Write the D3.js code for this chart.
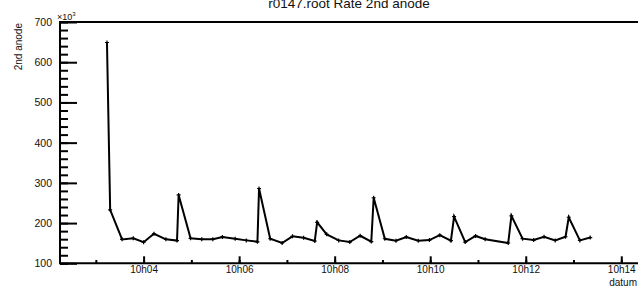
<!DOCTYPE html>
<html>
<head>
<meta charset="utf-8">
<script src="https://cdn.jsdelivr.net/npm/d3@7"></script>
<style>
  body { margin: 0; background: #fff; }
  svg { display: block; font-family: "Liberation Sans", Arial, sans-serif; }
</style>
</head>
<body>
<svg width="638" height="288"></svg>
<script>
// sample times (hh:mm:ss) and rate of the 2nd anode, in units of 10^3
const times = [
    '10:03:14', '10:03:18', '10:03:33', '10:03:47', '10:04:00', '10:04:13', '10:04:28', '10:04:42',
    '10:04:44', '10:04:59', '10:05:13', '10:05:27', '10:05:39', '10:05:55', '10:06:09', '10:06:23',
    '10:06:25', '10:06:39', '10:06:54', '10:07:07', '10:07:21', '10:07:35', '10:07:38', '10:07:50',
    '10:08:05', '10:08:19', '10:08:32', '10:08:46', '10:08:49', '10:09:03', '10:09:17', '10:09:30',
    '10:09:45', '10:09:59', '10:10:12', '10:10:26', '10:10:30', '10:10:44', '10:10:57', '10:11:09',
    '10:11:38', '10:11:42', '10:11:56', '10:12:10', '10:12:23', '10:12:37', '10:12:50', '10:12:54',
    '10:13:08', '10:13:21'
];
const rate = [
    649, 233, 159.5, 162, 152.5, 173.5, 159.7, 156.5,
    270, 162, 159.7, 160, 165.5, 161, 157, 153.5,
    286, 161, 150.5, 167, 163.7, 155.5, 202, 172,
    157, 152.8, 168.5, 154, 263, 161, 156.3, 165.5,
    156.3, 157.8, 170, 156.3, 216, 152.8, 168, 160,
    150.5, 218, 161.2, 157.8, 166, 157, 166, 214.5,
    157, 164
];
const yTicks = [100, 200, 300, 400, 500, 600, 700];
const xDomain = ['10:02:15', '10:14:21'];

const parse = d3.timeParse('%H:%M:%S');
const data = times.map(function (t, i) {
    return {t: parse(t), v: rate[i]};
});

const svg = d3.select('svg'),
    margin = {top: 22, right: 0, bottom: 24.7, left: 60},
    width = +svg.attr('width'),
    height = +svg.attr('height');

const x = d3.scaleTime()
    .domain(xDomain.map(parse))
    .range([margin.left, width - margin.right]);
const y = d3.scaleLinear()
    .domain([100, 700])
    .range([height - margin.bottom, margin.top]);

// minor ticks
svg.append('g')
    .attr('transform', 'translate(' + margin.left + ',0)')
    .call(d3.axisLeft(y).tickValues(d3.range(100, 701, 20)).tickSize(-8).tickFormat(''))
    .call(g => g.select('.domain').remove())
    .selectAll('line').attr('stroke-width', 2);
svg.append('g')
    .attr('transform', 'translate(0,' + y(100) + ')')
    .call(d3.axisBottom(x).ticks(d3.timeMinute.every(1)).tickSize(-3.3).tickFormat(''))
    .call(g => g.select('.domain').remove())
    .selectAll('line').attr('stroke-width', 2);

// major ticks + labels
const yAxis = svg.append('g')
    .attr('transform', 'translate(' + margin.left + ',0)')
    .call(d3.axisLeft(y).tickValues(yTicks).tickSize(-17).tickPadding(8))
    .call(g => g.select('.domain').remove());
yAxis.selectAll('line').attr('stroke-width', 2);
yAxis.selectAll('text').attr('font-size', 10.5).attr('fill', '#111');

const xAxis = svg.append('g')
    .attr('transform', 'translate(0,' + y(100) + ')')
    .call(d3.axisBottom(x).ticks(d3.timeMinute.every(2)).tickSize(-7).tickPadding(3)
        .tickFormat(d3.timeFormat('%Hh%M')))
    .call(g => g.select('.domain').remove());
xAxis.selectAll('line').attr('stroke-width', 2);
xAxis.selectAll('text').attr('font-size', 10).attr('fill', '#111');

// frame
const frame = svg.append('g').attr('stroke', '#000').attr('stroke-width', 2);
frame.append('line')
    .attr('x1', margin.left).attr('x2', width)
    .attr('y1', y(700)).attr('y2', y(700));
frame.append('line')
    .attr('x1', margin.left).attr('x2', width)
    .attr('y1', y(100)).attr('y2', y(100));
frame.append('line')
    .attr('x1', margin.left).attr('x2', margin.left)
    .attr('y1', y(700) - 1).attr('y2', y(100) + 1);

// data line
const line = d3.line()
    .x(function (d) { return x(d.t); })
    .y(function (d) { return y(d.v); });

svg.append('path')
    .datum(data)
    .attr('fill', 'none')
    .attr('stroke', '#000')
    .attr('stroke-width', 2)
    .attr('stroke-linejoin', 'miter')
    .attr('d', line);

svg.append('g')
    .selectAll('path')
    .data(data)
    .enter().append('path')
    .attr('d', function (d) {
        const px = x(d.t), py = y(d.v);
        return 'M' + (px - 2) + ',' + py + 'H' + (px + 2) + 'M' + px + ',' + (py - 2) + 'V' + (py + 2);
    })
    .attr('stroke', '#000')
    .attr('stroke-width', 1.2);

// texts
svg.append('text')
    .attr('x', 349).attr('y', 8)
    .attr('text-anchor', 'middle')
    .attr('font-size', 13.5)
    .attr('fill', '#111')
    .text('r0147.root Rate 2nd anode');

svg.append('text')
    .attr('transform', 'translate(21.5,23) rotate(-90)')
    .attr('text-anchor', 'end')
    .attr('font-size', 10)
    .attr('fill', '#111')
    .text('2nd anode');

svg.append('text')
    .attr('x', 637).attr('y', 286)
    .attr('text-anchor', 'end')
    .attr('font-size', 10)
    .attr('fill', '#111')
    .text('datum');

const exp = svg.append('text')
    .attr('x', 57).attr('y', 20)
    .attr('font-size', 9)
    .attr('fill', '#111');
exp.append('tspan').text('\u00d710');
exp.append('tspan').attr('dy', -4).attr('font-size', 6).text('3');
</script>
</body>
</html>
